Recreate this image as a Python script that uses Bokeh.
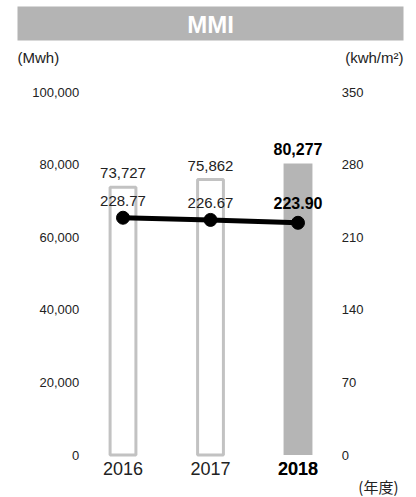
from bokeh.plotting import figure
from bokeh.models import (ColumnDataSource, Range1d, LinearAxis, FixedTicker, FactorRange,
                          LabelSet, Label, BoxAnnotation, NumeralTickFormatter)
from bokeh.core.properties import value
from bokeh.embed import file_html
from bokeh.resources import INLINE

# ---- data ----
years = ["2016", "2017", "2018"]
energy = [73727, 75862, 80277]            # Mwh (left axis, bars)
intensity = [228.77, 226.67, 223.90]      # kwh/m2 (right axis, line)
energy_labels = ["73,727", "75,862", "80,277"]
intensity_labels = ["228.77", "226.67", "223.90"]
left_ticks = [0, 20000, 40000, 60000, 80000, 100000]
right_ticks = [0, 70, 140, 210, 280, 350]
left_max = 100000
right_max = 350

# ---- layout (page pixels) ----
W, H = 416, 497
FL = 4                    # frame left offset
FW = W - FL
PXU = 87.5                # pixels per category
n = len(years)
pad_pct = (FW / PXU - n) / n
x_start = -(FW / PXU - n) / 2
Y0 = 454.5                # pixel row of value 0
PX_PER_100K = 363.0

def xd(px):
    return x_start + (px - FL) / PXU

def yd(py):
    return (Y0 - py) / PX_PER_100K * left_max

y_start, y_end = yd(H), yd(0)

FONT = "Liberation Sans"
TXT = "#222222"

p = figure(width=W, height=H,
           x_range=FactorRange(*years, range_padding=pad_pct, range_padding_units="percent"),
           y_range=Range1d(y_start, y_end), output_backend="svg", toolbar_location=None,
           min_border=0, min_border_left=FL)
p.extra_y_ranges = {"y2": Range1d(y_start * right_max / left_max, y_end * right_max / left_max)}
p.outline_line_color = None
p.xgrid.visible = False
p.ygrid.visible = False
p.background_fill_color = "white"
p.border_fill_color = "white"

# bars
past = ColumnDataSource(dict(x=years[:-1], top=energy[:-1], label=energy_labels[:-1]))
cur = ColumnDataSource(dict(x=years[-1:], top=energy[-1:], label=energy_labels[-1:]))
p.vbar(x="x", top="top", width=0.295, source=past, fill_color="white",
       line_color="#c2c2c2", line_width=3)
p.vbar(x="x", top="top", width=0.33, source=cur, fill_color="#b5b5b5", line_color=None)

# line
ln = ColumnDataSource(dict(x=years, y=intensity))
p.line(x="x", y="y", source=ln, y_range_name="y2", line_width=5, line_color="black")
p.scatter(x="x", y="y", source=ln, y_range_name="y2", size=13, fill_color="black",
          line_color="black")

# value labels
p.add_layout(LabelSet(x="x", y="top", text="label", source=past, y_offset=9,
                      text_align="center", text_baseline="bottom", text_font=value(FONT),
                      text_font_size="15px", text_color=TXT))
p.add_layout(LabelSet(x="x", y="top", text="label", source=cur, y_offset=9,
                      text_align="center", text_baseline="bottom", text_font=value(FONT),
                      text_font_size="16px", text_font_style="bold", text_color="black"))
lp = ColumnDataSource(dict(x=years[:-1], y=intensity[:-1], label=intensity_labels[:-1]))
lc = ColumnDataSource(dict(x=years[-1:], y=intensity[-1:], label=intensity_labels[-1:]))
p.add_layout(LabelSet(x="x", y="y", text="label", source=lp, y_range_name="y2", y_offset=12,
                      text_align="center", text_baseline="bottom", text_font=value(FONT),
                      text_font_size="15px", text_color=TXT))
p.add_layout(LabelSet(x="x", y="y", text="label", source=lc, y_range_name="y2", y_offset=14,
                      text_align="center", text_baseline="bottom", text_font=value(FONT),
                      text_font_size="16px", text_font_style="bold", text_color="black"))

# axes (drawn at fixed locations inside the frame)
def style_axis(ax, size):
    ax.axis_line_color = None
    ax.major_tick_line_color = None
    ax.minor_tick_line_color = None
    ax.major_tick_out = 0
    ax.major_tick_in = 0
    ax.minor_tick_out = 0
    ax.minor_tick_in = 0
    ax.major_label_text_font = FONT
    ax.major_label_text_font_size = size
    ax.major_label_text_color = TXT

ya = p.yaxis[0]
ya.ticker = FixedTicker(ticks=left_ticks)
ya.formatter = NumeralTickFormatter(format="0,0")
style_axis(ya, "13px")
ya.major_label_standoff = 0
ya.fixed_location = 0

ra = LinearAxis(y_range_name="y2", ticker=FixedTicker(ticks=right_ticks))
style_axis(ra, "13px")
ra.major_label_standoff = 0
ra.fixed_location = n
p.add_layout(ra, "right")

xa = p.xaxis[0]
style_axis(xa, "18px")
xa.major_label_standoff = 7
xa.major_label_overrides = {years[-1]: " "}
xa.fixed_location = 0
p.add_layout(LabelSet(x="x", y=0, text="x", source=cur, y_offset=-7, text_align="center",
                      text_baseline="top", text_font=value(FONT), text_font_size="18px",
                      text_font_style="bold", text_color="black"))

# header bar, unit labels and year caption
p.add_layout(BoxAnnotation(left=xd(17), right=xd(403), top=yd(6), bottom=yd(40),
                           fill_color="#b4b4b4", fill_alpha=1, line_color=None))
p.add_layout(Label(x=xd(210), y=yd(23.5), text="MMI", text_align="center",
                   text_baseline="middle", text_font=FONT, text_font_size="24px",
                   text_font_style="bold", text_color="white"))
p.add_layout(Label(x=xd(17), y=yd(57), text="(Mwh)", text_align="left",
                   text_baseline="middle", text_font=FONT, text_font_size="15px", text_color=TXT))
p.add_layout(Label(x=xd(403), y=yd(57), text="(kwh/m²)", text_align="right",
                   text_baseline="middle", text_font=FONT, text_font_size="15px", text_color=TXT))
p.add_layout(Label(x=xd(398), y=yd(486), text="(年度)", text_align="right",
                   text_baseline="middle", text_font="Noto Sans CJK JP", text_font_size="15px",
                   text_color=TXT))

open("out.html", "w").write(file_html(p, INLINE))
